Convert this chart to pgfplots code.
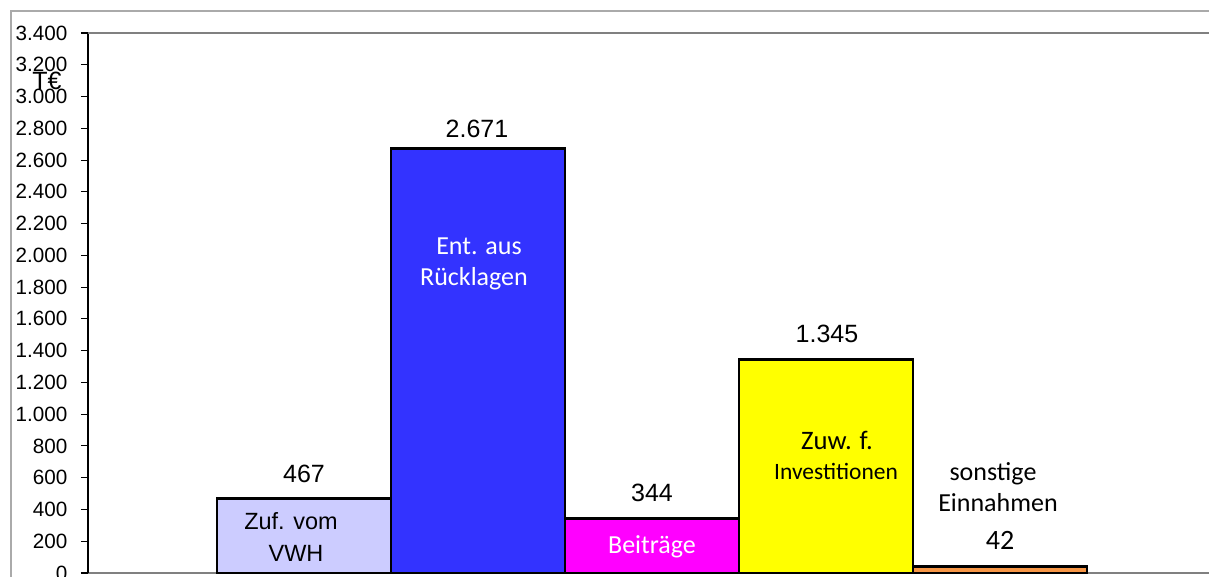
\documentclass[border=0pt]{standalone}
\usepackage{fontspec}
\setmainfont{Liberation Sans}
\newfontfamily\calibri{Carlito}
\usepackage{pgfplots}
\pgfplotsset{compat=1.18}
\definecolor{lav}{RGB}{204,204,255}
\definecolor{bblue}{RGB}{51,51,255}
\definecolor{mag}{RGB}{255,0,255}
\definecolor{yel}{RGB}{255,255,0}
\definecolor{org}{RGB}{247,150,70}
\definecolor{framec}{RGB}{170,170,170}
\definecolor{pborder}{RGB}{128,128,128}
\begin{document}
\begin{tikzpicture}
\begin{axis}[
  x=0.75pt, y=0.1191176pt,
  xmin=88, xmax=1300, ymin=0, ymax=3400,
  clip=false,
  axis x line=bottom, axis y line=left,
  x axis line style={-, draw=pborder, line width=1.5pt},
  y axis line style={-, draw=black, line width=1.2pt},
  xtick=\empty,
  ytick distance=200,
  tick align=outside,
  major tick length=5.25pt,
  ytick style={black, line width=0.8pt},
  yticklabel style={font=\fontsize{15.5}{18}\selectfont, anchor=east, inner sep=0pt, xshift=-10pt},
  /pgf/number format/.cd, fixed, 1000 sep={.}, assume math mode=true,
]
\addplot[ybar, bar width=174, bar shift=0pt, fill=lav, draw=black, line width=2pt] coordinates {(304,467)};
\addplot[ybar, bar width=174, bar shift=0pt, fill=bblue, draw=black, line width=2pt] coordinates {(478,2671)};
\addplot[ybar, bar width=174, bar shift=0pt, fill=mag, draw=black, line width=2pt] coordinates {(652,344)};
\addplot[ybar, bar width=174, bar shift=0pt, fill=yel, draw=black, line width=2pt] coordinates {(826,1345)};
\addplot[ybar, bar width=174, bar shift=0pt, fill=org, draw=black, line width=2pt] coordinates {(1000,42)};

\draw[pborder, line width=1.5pt] (axis cs:88,3400) -- (axis cs:1300,3400);
\draw[framec, line width=0.8pt] (axis cs:11,-200) -- (axis cs:11,3538.5) -- (axis cs:1300,3538.5);

\tikzset{lab/.style={anchor=base, inner sep=0pt}}
\node[lab, font=\fontsize{18.75}{22}\selectfont] at (axis cs:304,566.7) {467};
\node[lab, font=\fontsize{18.75}{22}\selectfont] at (axis cs:477,2738.9) {2.671};
\node[lab, font=\fontsize{18.75}{22}\selectfont] at (axis cs:652,447.0) {344};
\node[lab, font=\fontsize{18.75}{22}\selectfont] at (axis cs:827,1448.1) {1.345};

\node[lab, font=\fontsize{17.6}{21}\selectfont] at (axis cs:291,270.7) {Zuf. vom};
\node[lab, font=\fontsize{17.6}{21}\selectfont] at (axis cs:296,69.3) {VWH};

\node[lab, text=white, font=\calibri\fontsize{19.5}{23}\selectfont] at (axis cs:479,2002.2) {Ent. aus};
\node[lab, text=white, font=\calibri\fontsize{19.5}{23}\selectfont] at (axis cs:474,1807) {Rücklagen};
\node[lab, text=white, font=\calibri\fontsize{19.5}{23}\selectfont] at (axis cs:652,125) {Beiträge};

\node[lab, font=\calibri\fontsize{20}{24}\selectfont] at (axis cs:837,774.4) {Zuw. f.};
\node[lab, font=\calibri\fontsize{17.6}{21}\selectfont] at (axis cs:836,585.6) {Investitionen};

\node[lab, font=\calibri\fontsize{19.5}{23}\selectfont] at (axis cs:993,579.3) {sonstige};
\node[lab, font=\calibri\fontsize{19.5}{23}\selectfont] at (axis cs:998,384.1) {Einnahmen};
\node[lab, font=\calibri\fontsize{21}{25}\selectfont] at (axis cs:1000,144.8) {42};

\node[lab, font=\fontsize{18.75}{22}\selectfont] at (axis cs:47,3041.1) {T€};

\coordinate (BL) at (axis cs:0,-25.19);
\coordinate (TR) at (axis cs:1209,3607.8);
\end{axis}
\pgfresetboundingbox
\path[use as bounding box] (BL) rectangle (TR);
\end{tikzpicture}
\end{document}
